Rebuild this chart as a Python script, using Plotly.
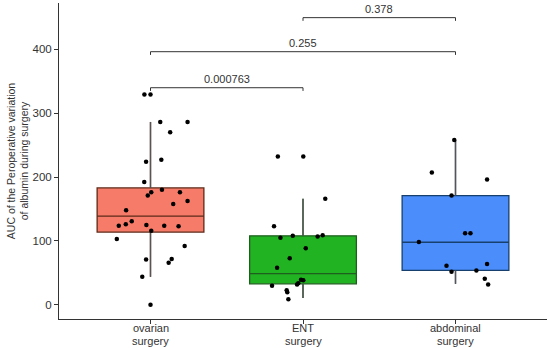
import plotly.graph_objects as go

# ---- data ----
group_line1 = ["ovarian", "ENT", "abdominal"]
group_line2 = ["surgery", "surgery", "surgery"]
group_pos = [1, 2, 3]

ovarian_vals = [329, 329, 286, 286, 270, 224, 227, 192, 171, 176, 180, 176, 158, 162.5,
                148, 131, 124, 126, 125, 124, 123, 116, 103, 92, 71, 72, 66, 44, 0.5]
ovarian_jitter = [-0.04, 0.0, 0.064, 0.243, 0.129, -0.029, 0.071, -0.041, -0.018, 0.005,
                  0.075, 0.193, 0.149, 0.243, -0.16, -0.123, -0.208, -0.162, -0.027, 0.09,
                  0.184, 0.005, -0.221, 0.224, -0.029, 0.139, 0.119, -0.054, 0.0]

ent_vals = [232, 232, 166, 123, 105, 108, 107, 109, 88.5, 73, 58, 39.5, 38.5, 34, 32,
            30, 23, 20, 9]
ent_jitter = [-0.165, 0.002, 0.146, -0.19, -0.148, -0.067, 0.096, 0.129, 0.018, -0.087,
              -0.17, -0.013, 0.002, -0.031, -0.039, -0.203, -0.107, -0.103, -0.096]

abd_vals = [258, 207, 196, 171, 112, 112, 98.4, 61.5, 64, 52, 54, 41, 32]
abd_jitter = [-0.008, -0.155, 0.207, -0.026, 0.063, 0.098, -0.24, -0.059, 0.207, -0.026,
              0.137, 0.192, 0.214]

# box statistics
q1 = [114, 33, 54]
median = [139, 49, 98]
q3 = [183, 108, 171]
lowerfence = [44, 11, 33]
upperfence = [286, 166, 258]

fills = ["#F67B69", "#22B322", "#4A8DFB"]
edges = ["#5E2A18", "#1E5E1E", "#17406E"]
whisker_color = "#555555"

# pairwise comparisons
comp_a = [1, 1, 2]
comp_b = [2, 3, 3]
comp_p = ["0.000763", "0.255", "0.378"]
comp_y = [339.5, 395.8, 449]

FONT = "Liberation Sans, Arial"

# ---- figure ----
fig = go.Figure()

for i in range(3):
    fig.add_trace(go.Box(
        x=[group_pos[i]], q1=[q1[i]], median=[median[i]], q3=[q3[i]],
        lowerfence=[lowerfence[i]], upperfence=[upperfence[i]],
        width=0.7, whiskerwidth=0, fillcolor=fills[i],
        line=dict(color=edges[i], width=1.3), boxpoints=False, showlegend=False,
    ))
    # grey whiskers drawn over the box whiskers
    for lo, hi in ((q3[i], upperfence[i]), (lowerfence[i], q1[i])):
        fig.add_trace(go.Scatter(
            x=[group_pos[i], group_pos[i]], y=[lo, hi], mode="lines",
            line=dict(color=whisker_color, width=1.4), showlegend=False, hoverinfo="skip",
        ))

all_vals = [ovarian_vals, ent_vals, abd_vals]
all_jit = [ovarian_jitter, ent_jitter, abd_jitter]
for i in range(3):
    fig.add_trace(go.Scatter(
        x=[group_pos[i] + j for j in all_jit[i]], y=all_vals[i], mode="markers",
        marker=dict(color="black", size=4.5), showlegend=False, hoverinfo="y",
    ))

tick = 5
for a, b, p, yv in zip(comp_a, comp_b, comp_p, comp_y):
    fig.add_trace(go.Scatter(
        x=[a, a, b, b], y=[yv - tick, yv, yv, yv - tick], mode="lines",
        line=dict(color="#333333", width=1), showlegend=False, hoverinfo="skip",
    ))
    fig.add_annotation(x=(a + b) / 2, y=yv, text=p, showarrow=False, yanchor="bottom",
                       yshift=1, font=dict(family=FONT, size=11, color="#333333"))

# two-line category labels below the x axis
for pos, l1, l2 in zip(group_pos, group_line1, group_line2):
    fig.add_annotation(x=pos, y=0, yref="paper", text=l1, showarrow=False,
                       yanchor="middle", yshift=-9, font=dict(family=FONT, size=11, color="#333333"))
    fig.add_annotation(x=pos, y=0, yref="paper", text=l2, showarrow=False,
                       yanchor="middle", yshift=-21.5, font=dict(family=FONT, size=11, color="#333333"))

fig.update_layout(
    width=550, height=348,
    margin=dict(l=59, r=3, t=3, b=29, autoexpand=False),
    paper_bgcolor="white", plot_bgcolor="white",
    font=dict(family=FONT, color="#333333"),
    xaxis=dict(range=[0.4, 3.6], tickvals=group_pos, showticklabels=False, showgrid=False,
               zeroline=False, showline=True, linecolor="#333333", linewidth=1,
               ticks="outside", ticklen=4, tickcolor="#333333"),
    yaxis=dict(range=[-21.9, 471.9], tickvals=[0, 100, 200, 300, 400], showgrid=False,
               zeroline=False, showline=True, linecolor="#333333", linewidth=1,
               ticks="outside", ticklen=4, tickcolor="#333333",
               tickfont=dict(size=11.5, color="#333333"),
               title=dict(text="AUC of the Peroperative variation<br>of albumin during surgery",
                          font=dict(size=10.5, color="#333333"), standoff=1)),
)

fig.write_html("out.html", config={"displayModeBar": False},
               post_script="document.body.style.margin='0';document.body.style.overflow='hidden';")
